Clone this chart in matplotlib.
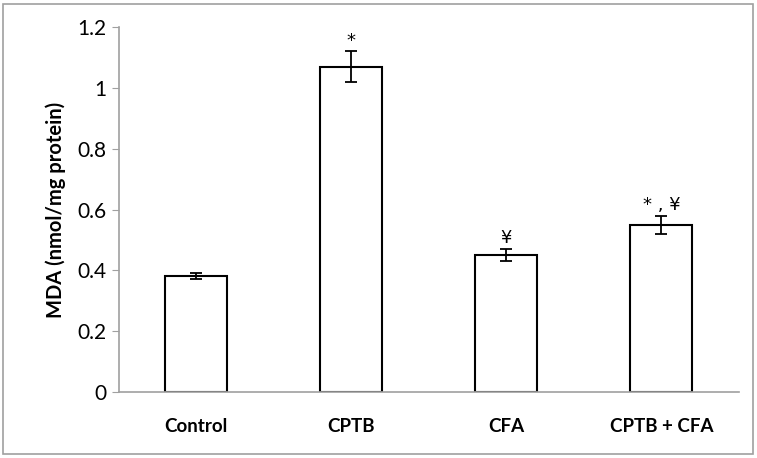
import matplotlib.pyplot as plt
from matplotlib.patches import Rectangle

groups = ["Control", "CPTB", "CFA", "CPTB + CFA"]
mda = [0.38, 1.07, 0.45, 0.55]
sem = [0.01, 0.05, 0.02, 0.03]
marks = ["", "*", "\u00a5", "* , \u00a5"]
yticks = [0, 0.2, 0.4, 0.6, 0.8, 1, 1.2]

plt.rcParams['font.family'] = ['Lato', 'DejaVu Sans']

fig = plt.figure(figsize=(7.57, 4.58), dpi=100)
ax = fig.add_axes([0.157, 0.144, 0.819, 0.797])

x = range(len(groups))
ax.bar(x, mda, width=0.4, color="white", edgecolor="black", linewidth=1.5,
       yerr=sem, error_kw=dict(ecolor="black", elinewidth=1.3, capsize=4, capthick=1.3))

for i, (v, e, m) in enumerate(zip(mda, sem, marks)):
    if m:
        ax.text(i, v + e + 0.006, m, ha="center", va="bottom", fontsize=13,
                family="DejaVu Sans")

ax.set_xlim(-0.5, 3.5)
ax.set_ylim(0, 1.2)
ax.set_yticks(yticks)
ax.set_yticklabels(["0", "0.2", "0.4", "0.6", "0.8", "1", "1.2"], fontsize=15)
ax.set_xticks(list(x))
ax.set_xticklabels(groups, fontsize=13.5, fontweight="bold")
ax.tick_params(axis="x", length=0, pad=19)
ax.tick_params(axis="y", length=5, color="#a0a0a0", pad=4)
ax.set_ylabel("MDA (nmol/mg protein)", fontsize=14.5, fontweight="bold", labelpad=8)

for s in ["top", "right"]:
    ax.spines[s].set_visible(False)
for s in ["left", "bottom"]:
    ax.spines[s].set_color("#a0a0a0")
    ax.spines[s].set_linewidth(1.2)

fig.patches.append(Rectangle((0.004, 0.009), 0.991, 0.982, transform=fig.transFigure,
                             fill=False, edgecolor="#a0a0a0", linewidth=1.2))

fig.savefig("out.png", dpi=100)
